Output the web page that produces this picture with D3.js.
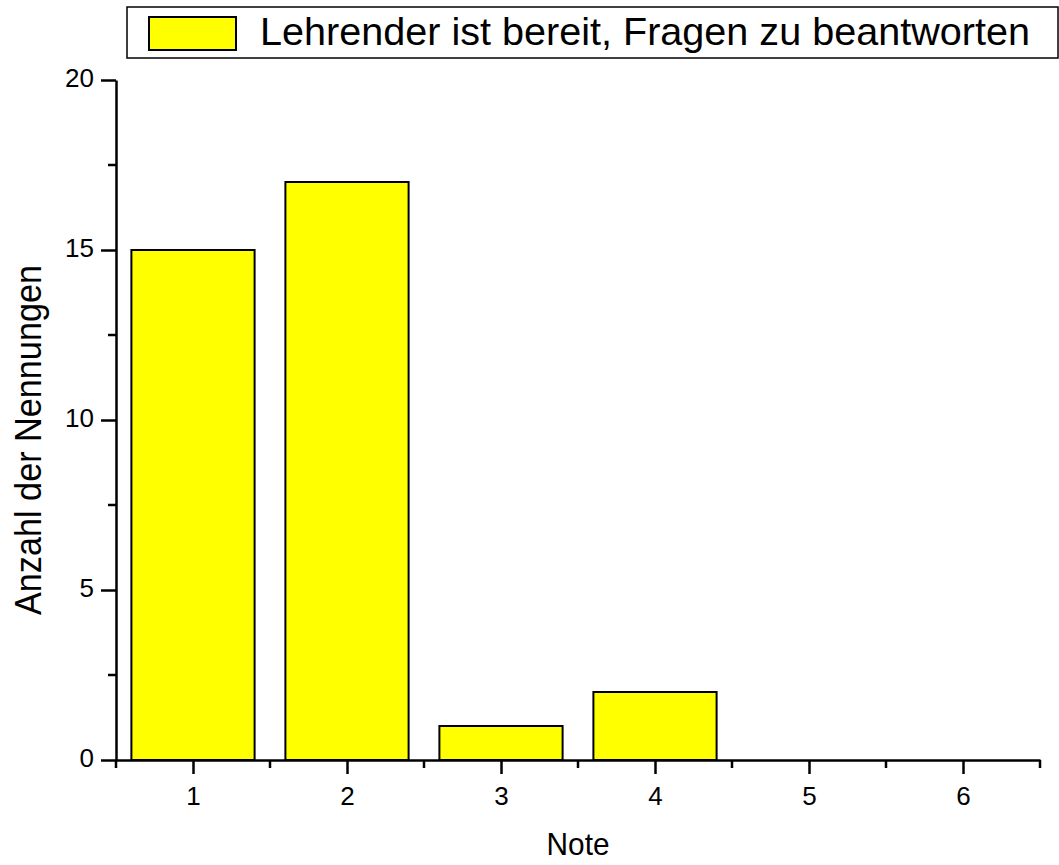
<!DOCTYPE html>
<html>
<head>
<meta charset="utf-8">
<script src="https://cdnjs.cloudflare.com/ajax/libs/d3/7.8.5/d3.min.js"></script>
<style>
  body { margin: 0; background: #fff; }
  svg text { font-family: "Liberation Sans", Arial, sans-serif; fill: #000; }
</style>
</head>
<body>
<div id="chart"></div>
<script>
// values
const notes = [1, 2, 3, 4, 5, 6];
const counts = [15, 17, 1, 2, 0, 0];
const yTicks = [0, 5, 10, 15, 20];
const legendLabel = "Lehrender ist bereit, Fragen zu beantworten";

const W = 1059, H = 865;
const svg = d3.select("#chart").append("svg")
  .attr("width", W)
  .attr("height", H);

const x = d3.scaleLinear().domain([0.5, 6.5]).range([116, 1040]);
const y = d3.scaleLinear().domain([0, 20]).range([760, 80]);
const barW = x(1.4) - x(0.6);

// bars
svg.append("g").selectAll("rect")
  .data(notes.map((n, i) => ({ note: n, count: counts[i] })).filter(d => d.count > 0))
  .join("rect")
  .attr("x", d => x(d.note) - barW / 2)
  .attr("y", d => y(d.count))
  .attr("width", barW)
  .attr("height", d => y(0) - y(d.count))
  .attr("fill", "#ffff00")
  .attr("stroke", "#000")
  .attr("stroke-width", 2);

// x axis: major ticks + minor ticks at halves
const xAxis = svg.append("g").attr("transform", "translate(0," + y(0) + ")");
xAxis.call(d3.axisBottom(x).tickValues(notes).tickFormat(d3.format("d"))
    .tickSize(14).tickSizeOuter(0).tickPadding(13))
  .call(g => g.select(".domain").attr("stroke-width", 2.5))
  .call(g => g.selectAll(".tick line").attr("stroke-width", 2.5))
  .call(g => g.selectAll(".tick text").style("font-size", "26px"));
xAxis.selectAll("line.minor")
  .data([0.5, 1.5, 2.5, 3.5, 4.5, 5.5, 6.5])
  .join("line")
  .attr("class", "minor")
  .attr("x1", d => x(d)).attr("x2", d => x(d))
  .attr("y1", 0).attr("y2", 8)
  .attr("stroke", "#000").attr("stroke-width", 2.5);

// y axis: major ticks + minor ticks at 2.5 steps
const yAxis = svg.append("g").attr("transform", "translate(" + x(0.5) + ",0)");
yAxis.call(d3.axisLeft(y).tickValues(yTicks).tickFormat(d3.format("d"))
    .tickSize(15).tickSizeOuter(0).tickPadding(7))
  .call(g => g.select(".domain").attr("stroke-width", 2.5))
  .call(g => g.selectAll(".tick line").attr("stroke-width", 2.5))
  .call(g => g.selectAll(".tick text").style("font-size", "26px").attr("dy", "0.25em"));
yAxis.selectAll("line.minor")
  .data([2.5, 7.5, 12.5, 17.5])
  .join("line")
  .attr("class", "minor")
  .attr("x1", -8).attr("x2", 0)
  .attr("y1", d => y(d)).attr("y2", d => y(d))
  .attr("stroke", "#000").attr("stroke-width", 2.5);

// axis titles
svg.append("text")
  .attr("x", x(3.5))
  .attr("y", 855)
  .attr("text-anchor", "middle")
  .attr("textLength", 63)
  .attr("lengthAdjust", "spacingAndGlyphs")
  .style("font-size", "32px")
  .text("Note");

svg.append("text")
  .attr("transform", "translate(41," + 440 + ") rotate(-90)")
  .attr("text-anchor", "middle")
  .attr("textLength", 350)
  .attr("lengthAdjust", "spacingAndGlyphs")
  .style("font-size", "36px")
  .text("Anzahl der Nennungen");

// legend
const legend = svg.append("g");
legend.append("rect")
  .attr("x", 127).attr("y", 7)
  .attr("width", 931).attr("height", 51)
  .attr("fill", "#fff")
  .attr("stroke", "#000")
  .attr("stroke-width", 1.5);
legend.append("rect")
  .attr("x", 149).attr("y", 17)
  .attr("width", 87).attr("height", 33)
  .attr("fill", "#ffff00")
  .attr("stroke", "#000")
  .attr("stroke-width", 2);
legend.append("text")
  .attr("x", 260).attr("y", 45)
  .attr("textLength", 770)
  .attr("lengthAdjust", "spacingAndGlyphs")
  .style("font-size", "39px")
  .text(legendLabel);
</script>
</body>
</html>
